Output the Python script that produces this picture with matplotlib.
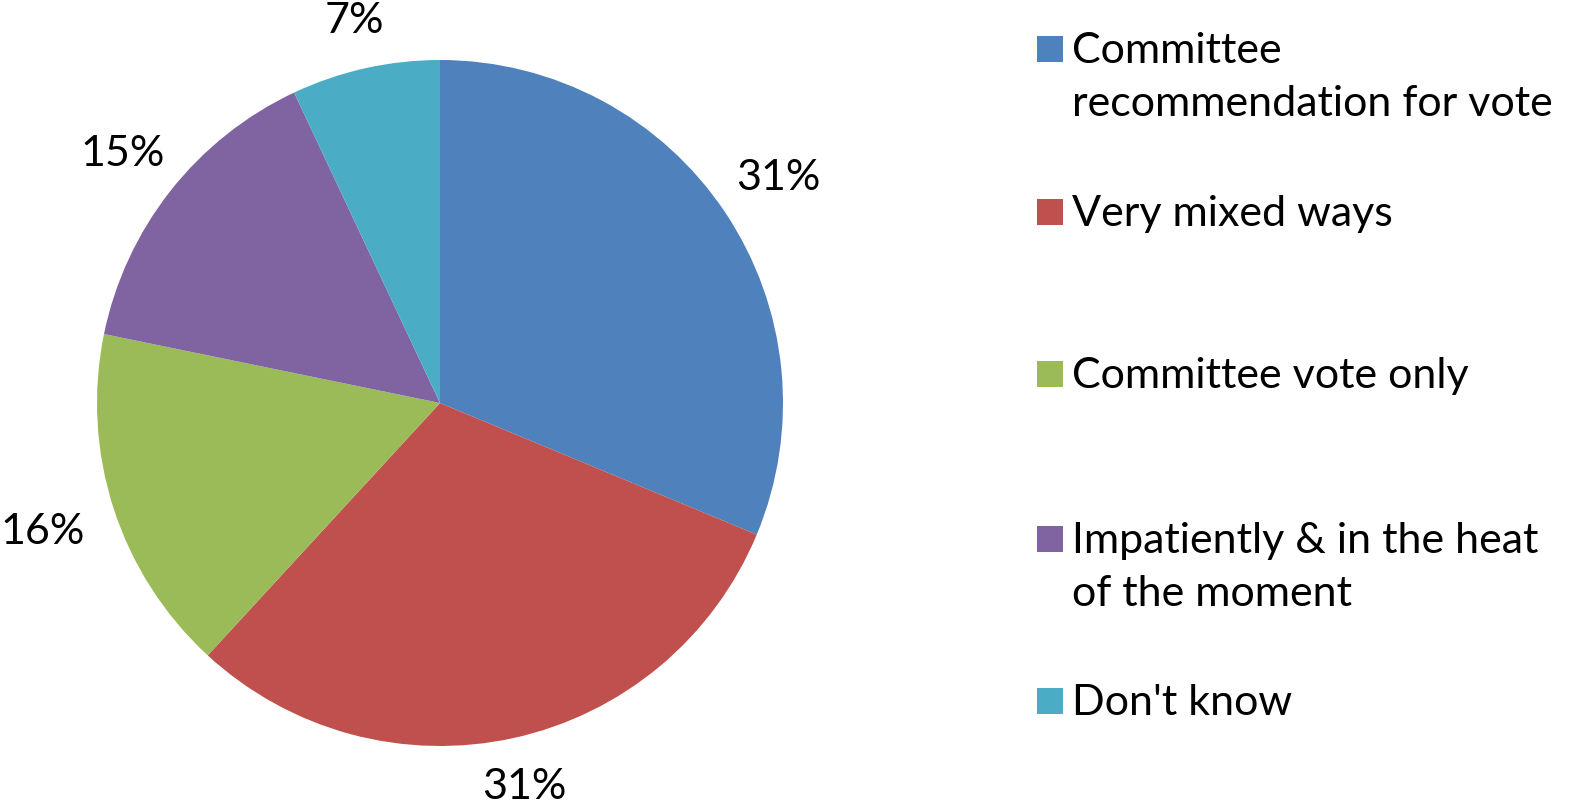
import matplotlib
matplotlib.use('Agg')
import numpy as np
import matplotlib.pyplot as plt
from matplotlib.patches import Rectangle

# Data
labels = ['Committee\nrecommendation for vote', 'Very mixed ways', 'Committee vote only',
          'Impatiently & in the heat\nof the moment', "Don't know"]
shares = [31.3, 30.6, 16.4, 14.8, 7.0]
colors = ['#4F81BD', '#C0504D', '#9BBB59', '#8064A2', '#4BACC6']

plt.rcParams['font.family'] = ['Lato', 'DejaVu Sans']

W, H = 1576, 812
fig = plt.figure(figsize=(W / 100, H / 100), dpi=100)

# pie centre and radius in pixels
cx, cy, R = 440, 812 - 404, 343
k = 1.25
side = 2 * R * k
ax = fig.add_axes([(cx - side / 2) / W, (cy - side / 2) / H, side / W, side / H])

wedges, texts, autotexts = ax.pie(shares, colors=colors, startangle=90, counterclock=False,
                                  autopct='%.0f%%', pctdistance=1.2,
                                  wedgeprops=dict(linewidth=0),
                                  textprops=dict(fontsize=31, color='black'))
ax.set_xlim(-k, k)
ax.set_ylim(-k, k)
ax.set_aspect('equal')
ax.axis('off')

# push each label out so its box sits a fixed gap outside the pie edge
fig.canvas.draw()
renderer = fig.canvas.get_renderer()
px = ax.transData.transform((1, 0))[0] - ax.transData.transform((0, 0))[0]
gap = 30 / px
for w, t in zip(wedges, autotexts):
    ang = np.deg2rad((w.theta1 + w.theta2) / 2)
    c, s = np.cos(ang), np.sin(ang)
    bb = t.get_window_extent(renderer)
    a, b = bb.width / 2 / px, bb.height / 2 / px
    d = min(a / max(abs(c), 1e-6), b / max(abs(s), 1e-6))
    r = 1 + gap + d
    t.set_position((r * c, r * s))
    t.set_ha('center')
    t.set_va('center')

# legend drawn entry by entry to follow the reference spacing
entry_y = [50, 213, 375, 540, 702]   # square centres, pixels from top
line_step = 53
for lab, col, y in zip(labels, colors, entry_y):
    fig.patches.append(Rectangle(((1037) / W, 1 - (y + 13) / H), 26 / W, 26 / H,
                                 transform=fig.transFigure, facecolor=col,
                                 edgecolor='none'))
    for j, line in enumerate(lab.split('\n')):
        fig.text(1072 / W, 1 - (y + 13 + j * line_step) / H, line, fontsize=31,
                 ha='left', va='baseline')

fig.savefig('out.png', dpi=100)
